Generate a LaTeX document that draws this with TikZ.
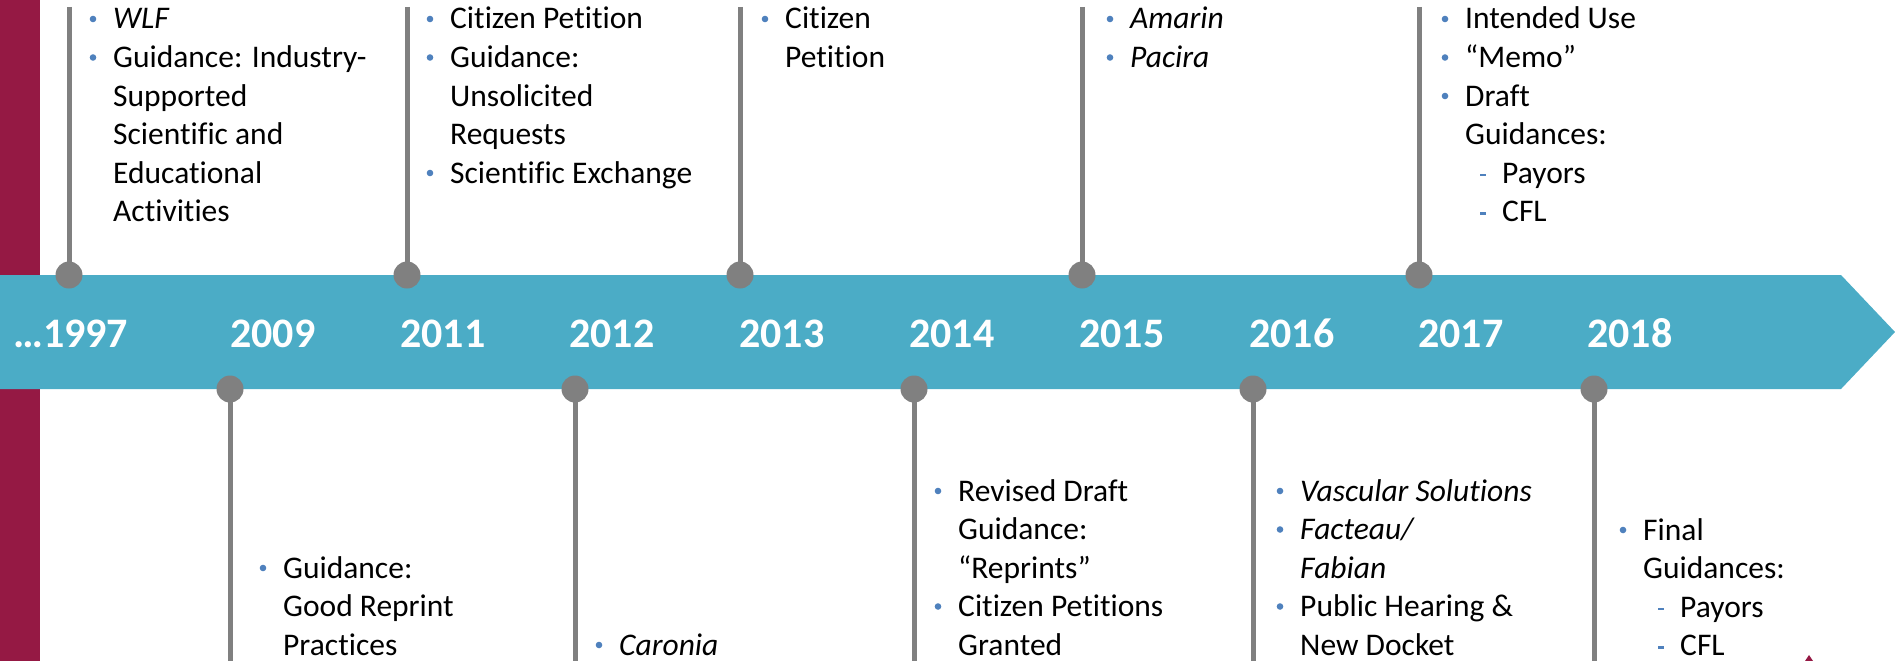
\documentclass[tikz,border=0pt]{standalone}
\usepackage{fontspec}
\setmainfont{Carlito}[Ligatures=NoCommon]
\usetikzlibrary{calc}

\definecolor{band}{RGB}{75,172,198}
\definecolor{maroon}{RGB}{149,25,68}
\definecolor{stem}{RGB}{128,128,128}
\definecolor{bulblue}{RGB}{79,129,189}

\tikzset{
  yearlabel/.style={anchor=base west, inner sep=0pt, text=white,
    font=\fontsize{42}{42}\selectfont\bfseries},
  evline/.style={anchor=base west, inner sep=0pt, text=black,
    font=\fontsize{31.5}{38.5}\selectfont},
  pin/.style={circle, fill=stem, minimum size=27pt, inner sep=0pt},
  stemline/.style={draw=stem, line width=5pt},
}

% One event text block: name, x of text, first baseline, list of type/text
% (b = bulleted line, c = continuation line, s = dashed sub-item)
\newcommand\evblock[4]{%
  \foreach \ty/\tx [count=\k] in {#4}{%
    \pgfmathsetmacro\yy{#3+(\k-1)*38.5}%
    \if\ty s
      \node[evline] (#1-\k) at (#2+37,\yy) {\tx};
      \fill[bulblue] (#2+15,\yy-9.5) rectangle (#2+21,\yy-7);
    \else
      \node[evline] (#1-\k) at (#2,\yy) {\tx};
      \if\ty b \fill[bulblue] (#2-20,\yy-10) circle (3.3pt); \fi
    \fi
  }%
}

\begin{document}
\begin{tikzpicture}[x=1pt,y=-1pt]
\useasboundingbox (0,0) rectangle (1895,661);
\clip (0,0) rectangle (1895,661);

% side bar and timeline arrow
\fill[maroon] (0,0) rectangle (40,661);
\fill[band] (0,275) -- (1841,275) -- (1895,332) -- (1841,389) -- (0,389) -- cycle;
\fill[maroon] (1805,661) -- (1809,655) -- (1813,661) -- cycle;

% stems above the arrow
\foreach \nm/\x in {1997/69, 2011/407, 2013/740, 2015/1082, 2017/1419}{
  \coordinate (t\nm) at (\x,7);
  \coordinate (c\nm) at (\x,275);
  \draw[stemline] (t\nm) -- (c\nm);
  \node[pin] (p\nm) at (c\nm) {};
}
% stems below the arrow
\foreach \nm/\x in {2009/230, 2012/575, 2014/914, 2016/1253, 2018/1594}{
  \coordinate (c\nm) at (\x,389);
  \coordinate (t\nm) at (\x,664);
  \draw[stemline] (c\nm) -- (t\nm);
  \node[pin] (p\nm) at (c\nm) {};
}

% years
\node[yearlabel] (y1997) at (13,347) {…1997};
\foreach \yr/\x in {2009/230, 2011/400, 2012/569, 2013/739, 2014/909,
                    2015/1079, 2016/1249, 2017/1418, 2018/1587}{
  \node[yearlabel] (y\yr) at (\x,347) {\yr};
}

% events above
\evblock{e1997}{113}{29}{b/\textit{WLF}, b/Guidance: Industry-, c/Supported,
  c/Scientific and, c/Educational, c/Activities}
\evblock{e2011}{450}{29}{b/Citizen Petition, b/Guidance:, c/Unsolicited,
  c/Requests, b/Scientific Exchange}
\evblock{e2013}{785}{29}{b/Citizen, c/Petition}
\evblock{e2015}{1130}{29}{b/\textit{Amarin}, b/\textit{Pacira}}
\evblock{e2017}{1465}{29}{b/Intended Use, b/“Memo”, b/Draft, c/Guidances:,
  s/Payors, s/CFL}

% events below
\evblock{e2009}{283}{578}{b/Guidance:, c/Good Reprint, c/Practices}
\evblock{e2012}{619}{655}{b/\textit{Caronia}}
\evblock{e2014}{958}{501}{b/Revised Draft, c/Guidance:, c/“Reprints”,
  b/Citizen Petitions, c/Granted}
\evblock{e2016}{1300}{501}{b/\textit{Vascular Solutions}, b/\textit{Facteau/},
  c/\textit{Fabian}, b/Public Hearing \&, c/New Docket}
\evblock{e2018}{1643}{540}{b/Final, c/Guidances:, s/Payors, s/CFL}
\end{tikzpicture}
\end{document}
